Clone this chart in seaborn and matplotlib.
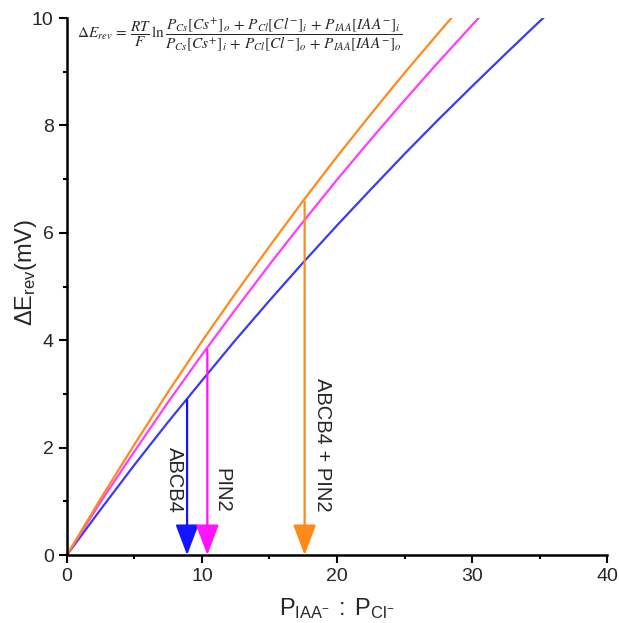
import numpy as np
import pandas as pd
import seaborn as sns
import matplotlib.pyplot as plt
from matplotlib.ticker import MultipleLocator

# values (P_IAA : P_Cl ratio vs delta E_rev in mV)
ratio = [0, 2.5, 5, 7.5, 10, 12.5, 15, 17.5, 20, 22.5, 25, 27.5, 30, 32.5, 35, 37.5]
abcb4 = [0, 0.85, 1.68, 2.48, 3.25, 4.01, 4.74, 5.45, 6.14, 6.81, 7.47, 8.11, 8.73, 9.34, 9.94, 10.52]
ratio_pin2 = [0, 2.5, 5, 7.5, 10, 12.5, 15, 17.5, 20, 22.5, 25, 27.5, 30, 32.5]
pin2 = [0, 0.99, 1.93, 2.85, 3.73, 4.58, 5.41, 6.21, 6.99, 7.74, 8.47, 9.18, 9.87, 10.55]
ratio_both = [0, 2.5, 5, 7.5, 10, 12.5, 15, 17.5, 20, 22.5, 25, 27.5, 30]
both = [0, 1.05, 2.06, 3.04, 3.98, 4.88, 5.75, 6.60, 7.42, 8.21, 8.98, 9.72, 10.45]

# measured ratios marked with arrows: x position, curve value at top
arrow_x = [8.9, 10.4, 17.6]
arrow_top = [2.89, 3.82, 6.58]
arrow_names = ['ABCB4', 'PIN2', 'ABCB4 + PIN2']

line_colors = ['#3B3BF2', '#FF3DFF', '#FF8A1C']
arrow_colors = ['#1414FF', '#FF14FF', '#FF8A1C']

sns.set_style('ticks')
plt.rcParams['font.family'] = ['Liberation Sans', 'DejaVu Sans']
plt.rcParams['mathtext.fontset'] = 'stix'

df = pd.concat([
    pd.DataFrame({'ratio': ratio, 'dE': abcb4, 'set': 'ABCB4'}),
    pd.DataFrame({'ratio': ratio_pin2, 'dE': pin2, 'set': 'PIN2'}),
    pd.DataFrame({'ratio': ratio_both, 'dE': both, 'set': 'ABCB4 + PIN2'}),
])

fig = plt.figure(figsize=(6.19, 6.23), dpi=100)
ax = fig.add_axes([0.108, 0.109, 0.873, 0.862])

sns.lineplot(data=df, x='ratio', y='dE', hue='set', palette=line_colors,
             hue_order=['ABCB4', 'PIN2', 'ABCB4 + PIN2'], lw=1.6,
             legend=False, ax=ax, sort=False)

for x, top, c in zip(arrow_x, arrow_top, arrow_colors):
    ax.annotate('', xy=(x, 0), xytext=(x, top),
                arrowprops=dict(arrowstyle='-|>,head_width=0.36,head_length=0.95',
                                color=c, lw=1.6, shrinkA=0, shrinkB=0,
                                mutation_scale=20),
                annotation_clip=False)

# rotated labels next to the arrows
ax.text(7.95, 1.40, arrow_names[0], rotation=270, ha='center', va='center', fontsize=14.5)
ax.text(11.5, 1.21, arrow_names[1], rotation=270, ha='center', va='center', fontsize=14.5)
ax.text(18.95, 2.05, arrow_names[2], rotation=270, ha='center', va='center', fontsize=14.5)

ax.text(0.75, 9.68,
        r'$\Delta E_{rev}\,=\,\dfrac{RT}{F}\,\ln\dfrac{P_{Cs}[Cs^{+}]_{o}\,+\,P_{Cl}[Cl^{-}]_{i}\,+\,P_{IAA}[IAA^{-}]_{i}}'
        r'{P_{Cs}[Cs^{+}]_{i}\,+\,P_{Cl}[Cl^{-}]_{o}\,+\,P_{IAA}[IAA^{-}]_{o}}$',
        fontsize=11, ha='left', va='center')

ax.set_xlim(0, 40)
ax.set_ylim(0, 10)
ax.xaxis.set_major_locator(MultipleLocator(10))
ax.xaxis.set_minor_locator(MultipleLocator(5))
ax.yaxis.set_major_locator(MultipleLocator(2))
ax.yaxis.set_minor_locator(MultipleLocator(1))
ax.tick_params(which='major', length=6, width=1.5, labelsize=14, color='black')
ax.tick_params(which='minor', length=3, width=1.5, color='black')
for s in ['left', 'bottom']:
    ax.spines[s].set_linewidth(1.8)
    ax.spines[s].set_color('black')
sns.despine(ax=ax)

ax.set_xlabel(r'$\mathregular{P_{IAA^{-}}\ :\ P_{Cl^{-}}}$', fontsize=17, labelpad=8)
ax.set_ylabel(r'$\mathregular{\Delta E_{rev}(mV)}$', fontsize=17)
ax.yaxis.set_label_coords(-0.052, 0.527)

fig.savefig('out.png', dpi=100)
